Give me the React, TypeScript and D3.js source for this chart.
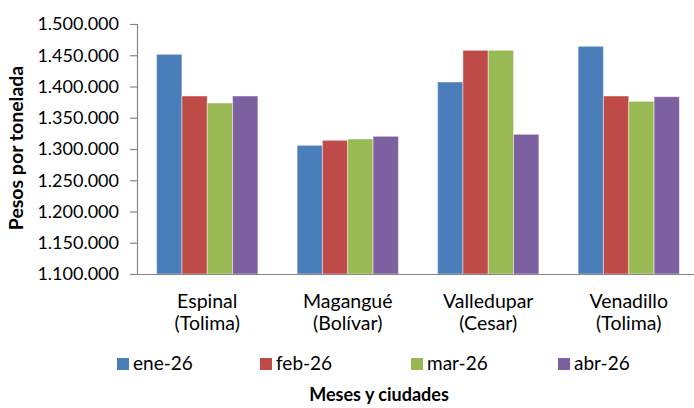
import React from 'react';
import * as d3 from 'd3';

const categories = ['Espinal (Tolima)', 'Magangué (Bolívar)', 'Valledupar (Cesar)', 'Venadillo (Tolima)'];
const series = ['ene-26', 'feb-26', 'mar-26', 'abr-26'];
const colors = ['#4a7ebb', '#be4b48', '#98b954', '#7d60a0'];

// one array per month, in category order
const ene26 = [1451500, 1305900, 1407200, 1464300];
const feb26 = [1384800, 1313900, 1457900, 1384800];
const mar26 = [1373600, 1316000, 1457900, 1376300];
const abr26 = [1384800, 1320300, 1323500, 1383700];
const values = [ene26, feb26, mar26, abr26];

const yTicks = [1100000, 1150000, 1200000, 1250000, 1300000, 1350000, 1400000, 1450000, 1500000];

const W = 694;
const H = 408;
const font = 'Lato, Calibri, sans-serif';

const es = d3.formatLocale({ decimal: ',', thousands: '.', grouping: [3], currency: ['$', ''] });
const fmt = es.format(',.0f');

const App = () => {
  // plot area runs slightly past the right edge, like the cropped original
  const x = d3.scaleBand<string>().domain(categories).range([137, 699]).paddingInner(0.279).paddingOuter(0.1395);
  const xs = d3.scaleBand<string>().domain(series).range([0, x.bandwidth()]).padding(0);
  const y = d3.scaleLinear().domain([1100000, 1500000]).range([274, 24]);

  return (
    <svg width={W} height={H} style={{ position: 'absolute', left: 0, top: 0, background: '#fff' }}>
      {/* bars */}
      {categories.map((c, ci) => (
        <g key={c} transform={`translate(${x(c)},0)`}>
          {series.map((s, si) => {
            const v = values[si][ci];
            return (
              <rect key={s} x={xs(s)} y={y(v)} width={xs.bandwidth()} height={y(1100000) - y(v)}
                fill={colors[si]} stroke="#ffffff" strokeOpacity={0.45} strokeWidth={1} />
            );
          })}
        </g>
      ))}

      {/* y axis */}
      <line x1={137.5} x2={137.5} y1={y(1500000)} y2={y(1100000)} stroke="#868686" strokeWidth={1.2} />
      {yTicks.map(t => (
        <g key={t}>
          <line x1={130} x2={137.5} y1={y(t) + 0.5} y2={y(t) + 0.5} stroke="#868686" strokeWidth={1.2} />
          <text x={119} y={y(t)} dy="0.35em" textAnchor="end" fontFamily={font} fontSize={18} fill="#000">{fmt(t)}</text>
        </g>
      ))}
      {/* x axis */}
      <line x1={130} x2={W} y1={274.5} y2={274.5} stroke="#868686" strokeWidth={1.2} />

      {/* category labels */}
      {categories.map(c => {
        const parts = c.split(' ');
        const cx = (x(c) as number) + x.bandwidth() / 2;
        return (
          <text key={c} x={cx} textAnchor="middle" fontFamily={font} fontSize={19.5} fill="#000">
            <tspan x={cx} y={308}>{parts[0]}</tspan>
            <tspan x={cx} y={330}>{parts[1]}</tspan>
          </text>
        );
      })}

      {/* legend */}
      {series.map((s, i) => {
        const lx = [117, 260, 411, 558][i];
        return (
          <g key={s}>
            <rect x={lx} y={358} width={12} height={12} fill={colors[i]} />
            <text x={lx + 16} y={369.5} fontFamily={font} fontSize={19} fill="#000">{s}</text>
          </g>
        );
      })}

      {/* titles */}
      <text x={379} y={401} textAnchor="middle" fontFamily={font} fontSize={18} fontWeight="bold" fill="#000">Meses y ciudades</text>
      <text transform="translate(23,148) rotate(-90)" textAnchor="middle" fontFamily={font} fontSize={19.5} fontWeight="bold" fill="#000">Pesos por tonelada</text>
    </svg>
  );
};

export default App;
